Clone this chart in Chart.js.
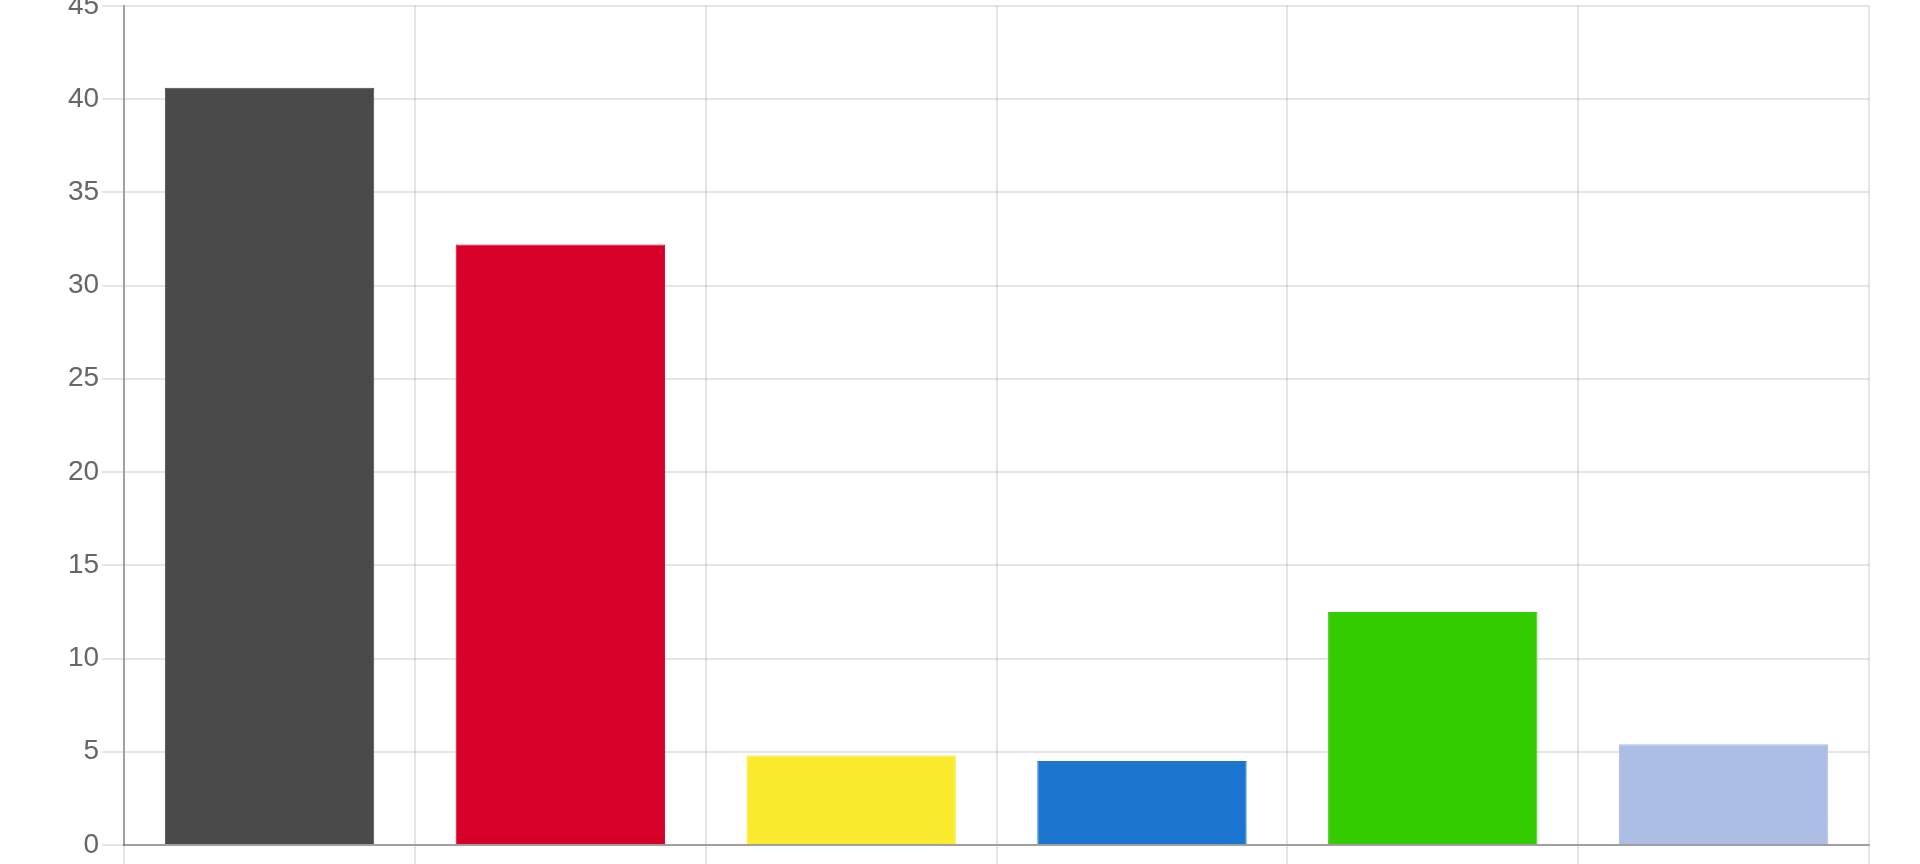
<!DOCTYPE html>
<html>
<head>
<meta charset="utf-8">
<script src="https://cdn.jsdelivr.net/npm/chart.js@4/dist/chart.umd.min.js"></script>
<style>
  html, body { margin: 0; padding: 0; background: #fff; overflow: hidden; }
  #wrap { position: absolute; left: 0; top: -14px; width: 1920px; height: 881px; }
</style>
</head>
<body>
<div id="wrap"><canvas id="myChart"></canvas></div>
<script>
const categories = ['1', '2', '3', '4', '5', '6'];
const values = [40.6, 32.2, 4.8, 4.5, 12.5, 5.4];
const barColors = ['#4a4a4a', '#d60029', '#fbeb2e', '#1a75cf', '#33cc00', '#adbee5'];
const yTicks = [0, 5, 10, 15, 20, 25, 30, 35, 40, 45];

const ctx = document.getElementById('myChart').getContext('2d');
const myChart = new Chart(ctx, {
    type: 'bar',
    data: {
        labels: categories,
        datasets: [{
            data: values,
            backgroundColor: barColors,
            borderColor: barColors,
            borderWidth: 1
        }]
    },
    options: {
        responsive: true,
        maintainAspectRatio: false,
        animation: false,
        layout: { padding: { left: 65, right: 51 } },
        plugins: {
            legend: { display: false },
            tooltip: { enabled: false }
        },
        scales: {
            x: {
                grid: { color: 'rgba(0,0,0,0.1)', lineWidth: 2, tickLength: 22, offset: true },
                border: { color: 'rgba(0,0,0,0.3)', width: 2 },
                ticks: { display: false }
            },
            y: {
                min: 0,
                max: 45,
                afterBuildTicks: (axis) => { axis.ticks = yTicks.map(v => ({ value: v })); },
                grid: { color: 'rgba(0,0,0,0.1)', lineWidth: 2, tickLength: 22 },
                border: { color: 'rgba(0,0,0,0.3)', width: 2 },
                ticks: {
                    color: '#666',
                    padding: 3,
                    font: { family: "'Liberation Sans', Arial, sans-serif", size: 28 }
                }
            }
        }
    }
});
</script>
</body>
</html>
